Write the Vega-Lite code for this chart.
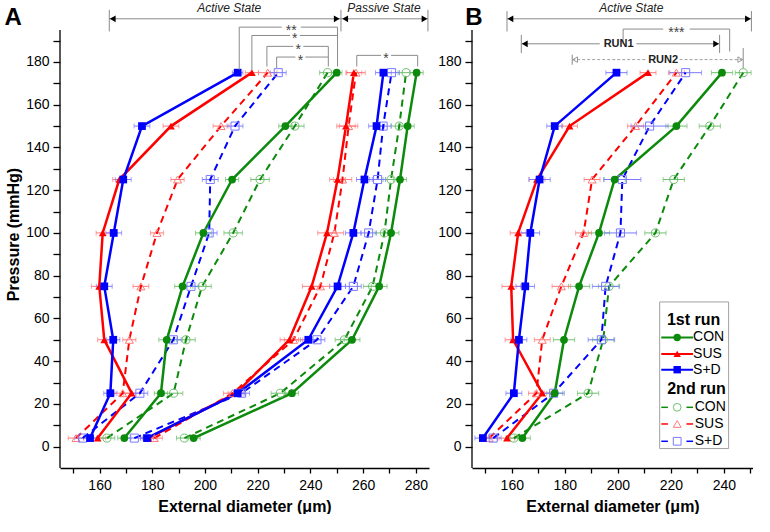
{
  "$schema": "https://vega.github.io/schema/vega-lite/v6.json",
  "padding": {"left": 4, "top": 0, "right": 0, "bottom": 0},
  "spacing": 8,
  "config": {
    "view": {"stroke": null},
    "font": "Liberation Sans",
    "axis": {"domainColor": "black", "tickColor": "black", "labelColor": "black", "titleColor": "black", "labelFontSize": 14, "titleFontSize": 16, "titleFontWeight": "bold", "grid": false, "domainWidth": 1.3, "tickWidth": 1.3}
  },
  "datasets": {
    "A": [
      {"st":"a","k":"CON1","r":1,"p":4,"d":169.4,"e":2.5},{"st":"a","k":"CON1","r":1,"p":25,"d":183.3,"e":2.5},{"st":"a","k":"CON1","r":1,"p":50,"d":185.5,"e":3},{"st":"a","k":"CON1","r":1,"p":75,"d":191.5,"e":3},{"st":"a","k":"CON1","r":1,"p":100,"d":199.4,"e":3},{"st":"a","k":"CON1","r":1,"p":125,"d":210.3,"e":2.5},{"st":"a","k":"CON1","r":1,"p":150,"d":230.5,"e":2.5},{"st":"a","k":"CON1","r":1,"p":175,"d":250.0,"e":2},
      {"st":"a","k":"SUS1","r":1,"p":4,"d":159.3,"e":3},{"st":"a","k":"SUS1","r":1,"p":25,"d":172.2,"e":3},{"st":"a","k":"SUS1","r":1,"p":50,"d":161.8,"e":2.5},{"st":"a","k":"SUS1","r":1,"p":75,"d":159.9,"e":3},{"st":"a","k":"SUS1","r":1,"p":100,"d":161.2,"e":2.5},{"st":"a","k":"SUS1","r":1,"p":125,"d":167.5,"e":2.5},{"st":"a","k":"SUS1","r":1,"p":150,"d":187.1,"e":3},{"st":"a","k":"SUS1","r":1,"p":175,"d":217.8,"e":2.5},
      {"st":"a","k":"SD1","r":1,"p":4,"d":156.4,"e":2.5},{"st":"a","k":"SD1","r":1,"p":25,"d":164.1,"e":2.5},{"st":"a","k":"SD1","r":1,"p":50,"d":165.2,"e":2.5},{"st":"a","k":"SD1","r":1,"p":75,"d":161.8,"e":3},{"st":"a","k":"SD1","r":1,"p":100,"d":165.4,"e":3},{"st":"a","k":"SD1","r":1,"p":125,"d":169.0,"e":3},{"st":"a","k":"SD1","r":1,"p":150,"d":176.1,"e":3},{"st":"a","k":"SD1","r":1,"p":175,"d":212.4,"e":2},
      {"st":"a","k":"CON2","r":2,"p":4,"d":162.8,"e":3},{"st":"a","k":"CON2","r":2,"p":25,"d":188.1,"e":3.5},{"st":"a","k":"CON2","r":2,"p":50,"d":192.8,"e":3.5},{"st":"a","k":"CON2","r":2,"p":75,"d":198.9,"e":3.5},{"st":"a","k":"CON2","r":2,"p":100,"d":210.7,"e":3.5},{"st":"a","k":"CON2","r":2,"p":125,"d":220.9,"e":3.5},{"st":"a","k":"CON2","r":2,"p":150,"d":234.1,"e":3.5},{"st":"a","k":"CON2","r":2,"p":175,"d":246.5,"e":3},
      {"st":"a","k":"SUS2","r":2,"p":4,"d":151.1,"e":3},{"st":"a","k":"SUS2","r":2,"p":25,"d":168.8,"e":3},{"st":"a","k":"SUS2","r":2,"p":50,"d":171.3,"e":2.5},{"st":"a","k":"SUS2","r":2,"p":75,"d":175.7,"e":3},{"st":"a","k":"SUS2","r":2,"p":100,"d":181.8,"e":2.5},{"st":"a","k":"SUS2","r":2,"p":125,"d":189.6,"e":2.5},{"st":"a","k":"SUS2","r":2,"p":150,"d":206.1,"e":3},{"st":"a","k":"SUS2","r":2,"p":175,"d":223.8,"e":3.5},
      {"st":"a","k":"SD2","r":2,"p":4,"d":153.6,"e":3},{"st":"a","k":"SD2","r":2,"p":25,"d":175.3,"e":3},{"st":"a","k":"SD2","r":2,"p":50,"d":188.0,"e":3},{"st":"a","k":"SD2","r":2,"p":75,"d":194.7,"e":3},{"st":"a","k":"SD2","r":2,"p":100,"d":201.6,"e":3},{"st":"a","k":"SD2","r":2,"p":125,"d":202.0,"e":3},{"st":"a","k":"SD2","r":2,"p":150,"d":211.4,"e":3},{"st":"a","k":"SD2","r":2,"p":175,"d":227.8,"e":3},
      {"st":"p","k":"CON1","r":1,"p":4,"d":195.7,"e":2.5},{"st":"p","k":"CON1","r":1,"p":25,"d":233.0,"e":2.5},{"st":"p","k":"CON1","r":1,"p":50,"d":255.8,"e":3},{"st":"p","k":"CON1","r":1,"p":75,"d":266.1,"e":3},{"st":"p","k":"CON1","r":1,"p":100,"d":270.6,"e":3},{"st":"p","k":"CON1","r":1,"p":125,"d":274.0,"e":2.5},{"st":"p","k":"CON1","r":1,"p":150,"d":276.9,"e":2.5},{"st":"p","k":"CON1","r":1,"p":175,"d":280.3,"e":2.5},
      {"st":"p","k":"SUS1","r":1,"p":4,"d":178.5,"e":3},{"st":"p","k":"SUS1","r":1,"p":25,"d":211.8,"e":3},{"st":"p","k":"SUS1","r":1,"p":50,"d":232.0,"e":3.5},{"st":"p","k":"SUS1","r":1,"p":75,"d":240.5,"e":3.5},{"st":"p","k":"SUS1","r":1,"p":100,"d":246.3,"e":3.5},{"st":"p","k":"SUS1","r":1,"p":125,"d":250.3,"e":3},{"st":"p","k":"SUS1","r":1,"p":150,"d":253.5,"e":3.5},{"st":"p","k":"SUS1","r":1,"p":175,"d":256.5,"e":3},
      {"st":"p","k":"SD1","r":1,"p":4,"d":178.0,"e":2.5},{"st":"p","k":"SD1","r":1,"p":25,"d":212.4,"e":2.5},{"st":"p","k":"SD1","r":1,"p":50,"d":239.2,"e":3},{"st":"p","k":"SD1","r":1,"p":75,"d":250.3,"e":3},{"st":"p","k":"SD1","r":1,"p":100,"d":256.3,"e":3},{"st":"p","k":"SD1","r":1,"p":125,"d":260.5,"e":3},{"st":"p","k":"SD1","r":1,"p":150,"d":265.1,"e":3},{"st":"p","k":"SD1","r":1,"p":175,"d":267.7,"e":3},
      {"st":"p","k":"CON2","r":2,"p":4,"d":192.2,"e":3},{"st":"p","k":"CON2","r":2,"p":25,"d":228.6,"e":3.5},{"st":"p","k":"CON2","r":2,"p":50,"d":252.9,"e":3.5},{"st":"p","k":"CON2","r":2,"p":75,"d":263.6,"e":3.5},{"st":"p","k":"CON2","r":2,"p":100,"d":268.1,"e":3.5},{"st":"p","k":"CON2","r":2,"p":125,"d":270.6,"e":3},{"st":"p","k":"CON2","r":2,"p":150,"d":273.7,"e":3},{"st":"p","k":"CON2","r":2,"p":175,"d":276.3,"e":3},
      {"st":"p","k":"SUS2","r":2,"p":4,"d":180.8,"e":3},{"st":"p","k":"SUS2","r":2,"p":25,"d":210.5,"e":3.5},{"st":"p","k":"SUS2","r":2,"p":50,"d":233.6,"e":3.5},{"st":"p","k":"SUS2","r":2,"p":75,"d":243.8,"e":3.5},{"st":"p","k":"SUS2","r":2,"p":100,"d":249.1,"e":3.5},{"st":"p","k":"SUS2","r":2,"p":125,"d":252.2,"e":3.5},{"st":"p","k":"SUS2","r":2,"p":150,"d":254.5,"e":3.5},{"st":"p","k":"SUS2","r":2,"p":175,"d":257.3,"e":3.5},
      {"st":"p","k":"SD2","r":2,"p":4,"d":173.2,"e":3},{"st":"p","k":"SD2","r":2,"p":25,"d":213.9,"e":3},{"st":"p","k":"SD2","r":2,"p":50,"d":242.5,"e":3},{"st":"p","k":"SD2","r":2,"p":75,"d":256.3,"e":3},{"st":"p","k":"SD2","r":2,"p":100,"d":262.1,"e":3},{"st":"p","k":"SD2","r":2,"p":125,"d":265.5,"e":3},{"st":"p","k":"SD2","r":2,"p":150,"d":267.6,"e":3},{"st":"p","k":"SD2","r":2,"p":175,"d":270.8,"e":3}
    ],
    "B": [
      {"st":"a","k":"CON1","r":1,"p":4,"d":164.0,"e":3},{"st":"a","k":"CON1","r":1,"p":25,"d":176.2,"e":3},{"st":"a","k":"CON1","r":1,"p":50,"d":179.7,"e":4},{"st":"a","k":"CON1","r":1,"p":75,"d":185.4,"e":4},{"st":"a","k":"CON1","r":1,"p":100,"d":192.9,"e":4},{"st":"a","k":"CON1","r":1,"p":125,"d":198.8,"e":4},{"st":"a","k":"CON1","r":1,"p":150,"d":222.1,"e":4},{"st":"a","k":"CON1","r":1,"p":175,"d":239.3,"e":4},
      {"st":"a","k":"SUS1","r":1,"p":4,"d":158.2,"e":3},{"st":"a","k":"SUS1","r":1,"p":25,"d":171.5,"e":3},{"st":"a","k":"SUS1","r":1,"p":50,"d":160.5,"e":3},{"st":"a","k":"SUS1","r":1,"p":75,"d":159.8,"e":3.5},{"st":"a","k":"SUS1","r":1,"p":100,"d":162.4,"e":3},{"st":"a","k":"SUS1","r":1,"p":125,"d":169.5,"e":3},{"st":"a","k":"SUS1","r":1,"p":150,"d":181.8,"e":3},{"st":"a","k":"SUS1","r":1,"p":175,"d":211.4,"e":3},
      {"st":"a","k":"SD1","r":1,"p":4,"d":149.1,"e":3},{"st":"a","k":"SD1","r":1,"p":25,"d":160.8,"e":3},{"st":"a","k":"SD1","r":1,"p":50,"d":162.7,"e":3},{"st":"a","k":"SD1","r":1,"p":75,"d":165.1,"e":3.5},{"st":"a","k":"SD1","r":1,"p":100,"d":167.0,"e":3.5},{"st":"a","k":"SD1","r":1,"p":125,"d":170.5,"e":4},{"st":"a","k":"SD1","r":1,"p":150,"d":176.2,"e":3},{"st":"a","k":"SD1","r":1,"p":175,"d":199.5,"e":4},
      {"st":"a","k":"CON2","r":2,"p":4,"d":160.8,"e":3},{"st":"a","k":"CON2","r":2,"p":25,"d":188.8,"e":4},{"st":"a","k":"CON2","r":2,"p":50,"d":194.5,"e":4},{"st":"a","k":"CON2","r":2,"p":75,"d":196.7,"e":4},{"st":"a","k":"CON2","r":2,"p":100,"d":214.2,"e":4},{"st":"a","k":"CON2","r":2,"p":125,"d":221.1,"e":4},{"st":"a","k":"CON2","r":2,"p":150,"d":234.7,"e":4},{"st":"a","k":"CON2","r":2,"p":175,"d":247.3,"e":3},
      {"st":"a","k":"SUS2","r":2,"p":4,"d":151.5,"e":3},{"st":"a","k":"SUS2","r":2,"p":25,"d":169.3,"e":3},{"st":"a","k":"SUS2","r":2,"p":50,"d":171.5,"e":3},{"st":"a","k":"SUS2","r":2,"p":75,"d":178.7,"e":3.5},{"st":"a","k":"SUS2","r":2,"p":100,"d":187.1,"e":3},{"st":"a","k":"SUS2","r":2,"p":125,"d":190.3,"e":3},{"st":"a","k":"SUS2","r":2,"p":150,"d":206.7,"e":3},{"st":"a","k":"SUS2","r":2,"p":175,"d":222.1,"e":3},
      {"st":"a","k":"SD2","r":2,"p":4,"d":153.0,"e":3},{"st":"a","k":"SD2","r":2,"p":25,"d":175.8,"e":4},{"st":"a","k":"SD2","r":2,"p":50,"d":193.8,"e":5},{"st":"a","k":"SD2","r":2,"p":75,"d":195.4,"e":5},{"st":"a","k":"SD2","r":2,"p":100,"d":201.0,"e":6},{"st":"a","k":"SD2","r":2,"p":125,"d":201.7,"e":7},{"st":"a","k":"SD2","r":2,"p":150,"d":212.0,"e":7},{"st":"a","k":"SD2","r":2,"p":175,"d":225.6,"e":6}
    ],
    "yline": [{"d":145,"p":-10,"p2":195}],
    "segA": [
      {"d":163.7,"d2":251.6,"p":200.2,"p2":200.2},{"d":163.7,"d2":163.7,"p":194.3,"p2":204.4},{"d":251.6,"d2":251.6,"p":194.3,"p2":204.4},{"d":251.6,"d2":284.6,"p":200.2,"p2":200.2},{"d":284.6,"d2":284.6,"p":194.3,"p2":204.4},
      {"d":213.0,"d2":229.1,"p":196.3,"p2":196.3},{"d":236.4,"d2":250.3,"p":196.3,"p2":196.3},{"d":213.0,"d2":213.0,"p":176.4,"p2":196.3},{"d":250.3,"d2":250.3,"p":177.9,"p2":196.3},
      {"d":217.8,"d2":232.3,"p":192.4,"p2":192.4},{"d":236.0,"d2":250.3,"p":192.4,"p2":192.4},{"d":217.8,"d2":217.8,"p":176.4,"p2":192.4},
      {"d":223.5,"d2":233.5,"p":187.3,"p2":187.3},{"d":237.3,"d2":246.8,"p":187.3,"p2":187.3},{"d":223.5,"d2":223.5,"p":177.9,"p2":187.3},{"d":246.8,"d2":246.8,"p":177.9,"p2":187.3},
      {"d":227.2,"d2":234.3,"p":182.3,"p2":182.3},{"d":238.1,"d2":246.8,"p":182.3,"p2":182.3},{"d":227.2,"d2":227.2,"p":177.2,"p2":182.3},
      {"d":257.6,"d2":266.8,"p":183.1,"p2":183.1},{"d":270.6,"d2":280.7,"p":183.1,"p2":183.1},{"d":257.6,"d2":257.6,"p":177.9,"p2":183.1},{"d":280.7,"d2":280.7,"p":177.9,"p2":183.1}
    ],
    "arrA": [{"d":165.0,"p":200.2,"dir":"L"},{"d":250.0,"p":200.2,"dir":"R"},{"d":253.2,"p":200.2,"dir":"L"},{"d":283.3,"p":200.2,"dir":"R"}],
    "statesA": [{"d":209.2,"p":205.2,"t":"Active   State"},{"d":267.9,"p":205.2,"t":"Passive State"}],
    "starsA": [{"d":232.7,"p":196.3,"t":"**"},{"d":234.1,"p":192.4,"t":"*"},{"d":235.4,"p":187.3,"t":"*"},{"d":236.2,"p":182.3,"t":"*"},{"d":268.7,"p":183.1,"t":"*"}],
    "letA": [{"d":127.2,"p":200.7,"t":"A"}],
    "segB": [
      {"d":158.2,"d2":250.4,"p":200.2,"p2":200.2},{"d":158.2,"d2":158.2,"p":194.3,"p2":203.8},{"d":250.4,"d2":250.4,"p":194.3,"p2":203.8},
      {"d":202.0,"d2":217.1,"p":195.4,"p2":195.4},{"d":227.1,"d2":242.2,"p":195.4,"p2":195.4},{"d":202.0,"d2":202.0,"p":188.5,"p2":195.4},{"d":242.2,"d2":242.2,"p":184.9,"p2":195.4},
      {"d":163.6,"d2":193.2,"p":188.5,"p2":188.5},{"d":207.0,"d2":238.4,"p":188.5,"p2":188.5},{"d":163.6,"d2":163.6,"p":184.2,"p2":192.7},{"d":238.4,"d2":238.4,"p":184.2,"p2":192.7},
      {"d":182.8,"d2":182.8,"p":178.7,"p2":183.4},{"d":247.3,"d2":247.3,"p":177.1,"p2":186.5}
    ],
    "segB2": [{"d":182.8,"d2":210.8,"p":181.1,"p2":181.1},{"d":223.3,"d2":247.3,"p":181.1,"p2":181.1}],
    "arrB": [{"d":159.5,"p":200.2,"dir":"L"},{"d":249.1,"p":200.2,"dir":"R"},{"d":164.9,"p":188.5,"dir":"L"},{"d":237.1,"p":188.5,"dir":"R"}],
    "arrB2": [{"d":183.9,"p":181.1,"dir":"L"},{"d":246.2,"p":181.1,"dir":"R"}],
    "statesB": [{"d":205.1,"p":205.2,"t":"Active   State"}],
    "starsB": [{"d":222.1,"p":195.4,"t":"***"}],
    "runsB": [{"d":200.3,"p":188.5,"t":"RUN1"},{"d":217.1,"p":181.1,"t":"RUN2"}],
    "letB": [{"d":145.7,"p":200.7,"t":"B"}],
    "legBox": [{"d":215.8,"d2":241.8,"p":-0.9,"p2":67.7}],
    "legHead": [{"d":228.6,"p":59.4,"t":"1st run"},{"d":229.7,"p":27.0,"t":"2nd run"}],
    "legLab": [{"d":228.4,"p":51.1,"t":"CON"},{"d":228.4,"p":43.4,"t":"SUS"},{"d":228.4,"p":36.0,"t":"S+D"},{"d":229.0,"p":18.4,"t":"CON"},{"d":229.0,"p":10.6,"t":"SUS"},{"d":229.0,"p":2.5,"t":"S+D"}],
    "legLines": [
      {"k":"CON1","r":1,"d":216.4,"d2":228.4,"p":51.1},{"k":"SUS1","r":1,"d":216.4,"d2":228.4,"p":43.4},{"k":"SD1","r":1,"d":216.4,"d2":228.4,"p":36.0},
      {"k":"CON2","r":2,"d":216.4,"d2":218.9,"p":18.4},{"k":"CON2","r":2,"d":225.9,"d2":228.4,"p":18.4},
      {"k":"SUS2","r":2,"d":216.4,"d2":218.9,"p":10.6},{"k":"SUS2","r":2,"d":225.9,"d2":228.4,"p":10.6},
      {"k":"SD2","r":2,"d":216.4,"d2":218.9,"p":2.5},{"k":"SD2","r":2,"d":225.9,"d2":228.4,"p":2.5}
    ],
    "legPts": [
      {"k":"CON1","r":1,"d":222.4,"p":51.1},{"k":"SUS1","r":1,"d":222.4,"p":43.4},{"k":"SD1","r":1,"d":222.4,"p":36.0},
      {"k":"CON2","r":2,"d":222.4,"p":18.4},{"k":"SUS2","r":2,"d":222.4,"p":10.6},{"k":"SD2","r":2,"d":222.4,"p":2.5}
    ]
  },
  "resolve": {"scale": {"color": "independent", "stroke": "independent", "fill": "independent", "shape": "independent"}},
  "hconcat": [
    {
      "width": 369,
      "height": 468,
      "encoding": {
        "x": {"field": "d", "type": "quantitative", "scale": {"domain": [145, 285], "nice": false, "zero": false},
          "axis": {"values": [150,160,170,180,190,200,210,220,230,240,250,260,270,280], "labelExpr": "datum.value % 20 === 0 ? datum.label : ''", "tickSize": 5, "labelPadding": 5, "titlePadding": 6, "title": "External diameter (μm)"}},
        "y": {"field": "p", "type": "quantitative", "scale": {"domain": [-10, 209], "nice": false, "zero": false},
          "axis": {"values": [0,10,20,30,40,50,60,70,80,90,100,110,120,130,140,150,160,170,180,190], "labelExpr": "datum.value % 20 === 0 ? datum.label : ''", "tickSize": 7, "domain": false, "labelPadding": 4, "titlePadding": 4, "title": "Pressure (mmHg)"}}
      },
      "layer": [
        {
          "data": {"name": "A"},
          "mark": {"type": "errorbar", "ticks": true},
          "encoding": {
            "xError": {"field": "e"},
            "color": {"field": "k", "type": "nominal", "scale": {"domain": ["CON1","SUS1","SD1","CON2","SUS2","SD2"], "range": ["#6fbf6f","#ff7a7a","#7a7aff","#6fbf6f","#ff7a7a","#7a7aff"]}, "legend": null}
          }
        },
        {
          "data": {"name": "A"},
          "transform": [{"filter": "datum.r == 2"}],
          "mark": {"type": "line", "strokeDash": [7, 5], "strokeWidth": 2},
          "encoding": {
            "order": {"field": "p", "type": "quantitative"},
            "detail": {"field": "st", "type": "nominal"},
            "stroke": {"field": "k", "type": "nominal", "scale": {"domain": ["CON1","SUS1","SD1","CON2","SUS2","SD2"], "range": ["#0b8a0b","#ff0000","#0000ff","#0b8a0b","#ff0000","#0000ff"]}, "legend": null}
          }
        },
        {
          "data": {"name": "A"},
          "transform": [{"filter": "datum.r == 1"}],
          "mark": {"type": "line", "strokeWidth": 2.5},
          "encoding": {
            "order": {"field": "p", "type": "quantitative"},
            "detail": {"field": "st", "type": "nominal"},
            "stroke": {"field": "k", "type": "nominal", "legend": null}
          }
        },
        {
          "data": {"name": "A"},
          "transform": [{"filter": "datum.r == 2"}],
          "mark": {"type": "point", "filled": false, "strokeWidth": 1, "opacity": 1, "size": 65},
          "encoding": {
            "shape": {"field": "k", "type": "nominal", "scale": {"domain": ["CON1","SUS1","SD1","CON2","SUS2","SD2"], "range": ["circle","triangle-up","square","circle","triangle-up","square"]}, "legend": null},
            "color": {"field": "k", "type": "nominal", "legend": null}
          }
        },
        {
          "data": {"name": "A"},
          "transform": [{"filter": "datum.r == 1"}],
          "mark": {"type": "point", "filled": true, "opacity": 1, "size": 60},
          "encoding": {
            "shape": {"field": "k", "type": "nominal", "legend": null},
            "fill": {"field": "k", "type": "nominal", "scale": {"domain": ["CON1","SUS1","SD1","CON2","SUS2","SD2"], "range": ["#0b8a0b","#ff0000","#0000ff","#0b8a0b","#ff0000","#0000ff"]}, "legend": null}
          }
        },
        {
          "data": {"name": "yline"},
          "mark": {"type": "rule", "color": "black", "strokeWidth": 1.3},
          "encoding": {"y2": {"field": "p2"}}
        },
        {
          "data": {"name": "segA"},
          "mark": {"type": "rule", "color": "#8a8a8a", "strokeWidth": 1},
          "encoding": {"x2": {"field": "d2"}, "y2": {"field": "p2"}}
        },
        {
          "data": {"name": "arrA"},
          "transform": [{"filter": "datum.dir == 'L'"}],
          "mark": {"type": "point", "shape": "triangle-left", "filled": true, "color": "black", "size": 45, "opacity": 1}
        },
        {
          "data": {"name": "arrA"},
          "transform": [{"filter": "datum.dir == 'R'"}],
          "mark": {"type": "point", "shape": "triangle-right", "filled": true, "color": "black", "size": 45, "opacity": 1}
        },
        {
          "data": {"name": "statesA"},
          "mark": {"type": "text", "fontStyle": "italic", "fontSize": 12, "color": "#222", "baseline": "middle"},
          "encoding": {"text": {"field": "t", "type": "nominal"}}
        },
        {
          "data": {"name": "starsA"},
          "mark": {"type": "text", "fontSize": 14, "color": "#444", "baseline": "alphabetic", "dy": 8},
          "encoding": {"text": {"field": "t", "type": "nominal"}}
        },
        {
          "data": {"name": "letA"},
          "mark": {"type": "text", "fontSize": 24, "fontWeight": "bold", "color": "black", "baseline": "middle"},
          "encoding": {"text": {"field": "t", "type": "nominal"}}
        }
      ]
    },
    {
      "width": 281,
      "height": 468,
      "encoding": {
        "x": {"field": "d", "type": "quantitative", "scale": {"domain": [145, 251], "nice": false, "zero": false},
          "axis": {"values": [150,160,170,180,190,200,210,220,230,240,250], "labelExpr": "datum.value % 20 === 0 ? datum.label : ''", "tickSize": 5, "labelPadding": 5, "titlePadding": 6, "title": "External diameter (μm)"}},
        "y": {"field": "p", "type": "quantitative", "scale": {"domain": [-10, 209], "nice": false, "zero": false},
          "axis": {"values": [0,10,20,30,40,50,60,70,80,90,100,110,120,130,140,150,160,170,180,190], "labelExpr": "datum.value % 20 === 0 ? datum.label : ''", "tickSize": 7, "domain": false, "labelPadding": 4, "title": null}}
      },
      "layer": [
        {
          "data": {"name": "B"},
          "mark": {"type": "errorbar", "ticks": true},
          "encoding": {
            "xError": {"field": "e"},
            "color": {"field": "k", "type": "nominal", "scale": {"domain": ["CON1","SUS1","SD1","CON2","SUS2","SD2"], "range": ["#6fbf6f","#ff7a7a","#7a7aff","#6fbf6f","#ff7a7a","#7a7aff"]}, "legend": null}
          }
        },
        {
          "data": {"name": "B"},
          "transform": [{"filter": "datum.r == 2"}],
          "mark": {"type": "line", "strokeDash": [7, 5], "strokeWidth": 2},
          "encoding": {
            "order": {"field": "p", "type": "quantitative"},
            "stroke": {"field": "k", "type": "nominal", "scale": {"domain": ["CON1","SUS1","SD1","CON2","SUS2","SD2"], "range": ["#0b8a0b","#ff0000","#0000ff","#0b8a0b","#ff0000","#0000ff"]}, "legend": null}
          }
        },
        {
          "data": {"name": "B"},
          "transform": [{"filter": "datum.r == 1"}],
          "mark": {"type": "line", "strokeWidth": 2.5},
          "encoding": {
            "order": {"field": "p", "type": "quantitative"},
            "stroke": {"field": "k", "type": "nominal", "legend": null}
          }
        },
        {
          "data": {"name": "legLines"},
          "transform": [{"filter": "datum.r == 1"}],
          "mark": {"type": "rule", "strokeWidth": 2},
          "encoding": {"x2": {"field": "d2"}, "stroke": {"field": "k", "type": "nominal", "legend": null}}
        },
        {
          "data": {"name": "legLines"},
          "transform": [{"filter": "datum.r == 2"}],
          "mark": {"type": "rule", "strokeWidth": 1.5},
          "encoding": {"x2": {"field": "d2"}, "stroke": {"field": "k", "type": "nominal", "legend": null}}
        },
        {
          "data": {"name": "B"},
          "transform": [{"filter": "datum.r == 2"}],
          "mark": {"type": "point", "filled": false, "strokeWidth": 1, "opacity": 1, "size": 65},
          "encoding": {
            "shape": {"field": "k", "type": "nominal", "scale": {"domain": ["CON1","SUS1","SD1","CON2","SUS2","SD2"], "range": ["circle","triangle-up","square","circle","triangle-up","square"]}, "legend": null},
            "color": {"field": "k", "type": "nominal", "legend": null}
          }
        },
        {
          "data": {"name": "legPts"},
          "transform": [{"filter": "datum.r == 2"}],
          "mark": {"type": "point", "filled": false, "strokeWidth": 1, "opacity": 1, "size": 60},
          "encoding": {
            "shape": {"field": "k", "type": "nominal", "legend": null},
            "color": {"field": "k", "type": "nominal", "legend": null}
          }
        },
        {
          "data": {"name": "B"},
          "transform": [{"filter": "datum.r == 1"}],
          "mark": {"type": "point", "filled": true, "opacity": 1, "size": 60},
          "encoding": {
            "shape": {"field": "k", "type": "nominal", "legend": null},
            "fill": {"field": "k", "type": "nominal", "scale": {"domain": ["CON1","SUS1","SD1","CON2","SUS2","SD2"], "range": ["#0b8a0b","#ff0000","#0000ff","#0b8a0b","#ff0000","#0000ff"]}, "legend": null}
          }
        },
        {
          "data": {"name": "legPts"},
          "transform": [{"filter": "datum.r == 1"}],
          "mark": {"type": "point", "filled": true, "opacity": 1, "size": 55},
          "encoding": {
            "shape": {"field": "k", "type": "nominal", "legend": null},
            "fill": {"field": "k", "type": "nominal", "legend": null}
          }
        },
        {
          "data": {"name": "legBox"},
          "mark": {"type": "rect", "fillOpacity": 0, "stroke": "#a0a0a0", "strokeWidth": 1},
          "encoding": {"x2": {"field": "d2"}, "y2": {"field": "p2"}}
        },
        {
          "data": {"name": "legHead"},
          "mark": {"type": "text", "fontSize": 16, "fontWeight": "bold", "color": "black", "baseline": "middle"},
          "encoding": {"text": {"field": "t", "type": "nominal"}}
        },
        {
          "data": {"name": "legLab"},
          "mark": {"type": "text", "fontSize": 14, "color": "black", "baseline": "middle", "align": "left"},
          "encoding": {"text": {"field": "t", "type": "nominal"}}
        },
        {
          "data": {"name": "yline"},
          "mark": {"type": "rule", "color": "black", "strokeWidth": 1.3},
          "encoding": {"y2": {"field": "p2"}}
        },
        {
          "data": {"name": "segB"},
          "mark": {"type": "rule", "color": "#8a8a8a", "strokeWidth": 1},
          "encoding": {"x2": {"field": "d2"}, "y2": {"field": "p2"}}
        },
        {
          "data": {"name": "segB2"},
          "mark": {"type": "rule", "color": "#a0a0a0", "strokeWidth": 1, "strokeDash": [3, 2]},
          "encoding": {"x2": {"field": "d2"}, "y2": {"field": "p2"}}
        },
        {
          "data": {"name": "arrB"},
          "transform": [{"filter": "datum.dir == 'L'"}],
          "mark": {"type": "point", "shape": "triangle-left", "filled": true, "color": "black", "size": 45, "opacity": 1}
        },
        {
          "data": {"name": "arrB"},
          "transform": [{"filter": "datum.dir == 'R'"}],
          "mark": {"type": "point", "shape": "triangle-right", "filled": true, "color": "black", "size": 45, "opacity": 1}
        },
        {
          "data": {"name": "arrB2"},
          "transform": [{"filter": "datum.dir == 'L'"}],
          "mark": {"type": "point", "shape": "triangle-left", "filled": false, "color": "#999999", "size": 30, "strokeWidth": 1, "opacity": 1}
        },
        {
          "data": {"name": "arrB2"},
          "transform": [{"filter": "datum.dir == 'R'"}],
          "mark": {"type": "point", "shape": "triangle-right", "filled": false, "color": "#999999", "size": 30, "strokeWidth": 1, "opacity": 1}
        },
        {
          "data": {"name": "statesB"},
          "mark": {"type": "text", "fontStyle": "italic", "fontSize": 12, "color": "#222", "baseline": "middle"},
          "encoding": {"text": {"field": "t", "type": "nominal"}}
        },
        {
          "data": {"name": "starsB"},
          "mark": {"type": "text", "fontSize": 14, "color": "#444", "baseline": "alphabetic", "dy": 8},
          "encoding": {"text": {"field": "t", "type": "nominal"}}
        },
        {
          "data": {"name": "runsB"},
          "mark": {"type": "text", "fontSize": 11, "fontWeight": "bold", "color": "#222", "baseline": "middle"},
          "encoding": {"text": {"field": "t", "type": "nominal"}}
        },
        {
          "data": {"name": "letB"},
          "mark": {"type": "text", "fontSize": 24, "fontWeight": "bold", "color": "black", "baseline": "middle"},
          "encoding": {"text": {"field": "t", "type": "nominal"}}
        }
      ]
    }
  ]
}
